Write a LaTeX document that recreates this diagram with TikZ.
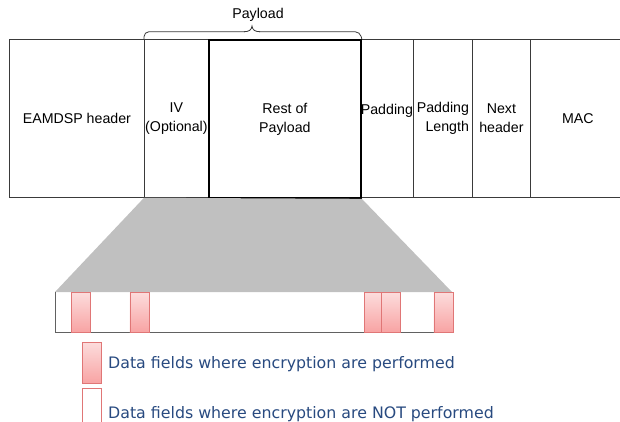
\documentclass[tikz,border=0pt]{standalone}
\usepackage{fontspec}
\setmainfont{Liberation Sans}
\newfontfamily\legendfont{DejaVu Sans}
\definecolor{fieldline}{HTML}{3A3A3A}
\definecolor{funnel}{HTML}{C0C0C0}
\definecolor{encfill}{HTML}{F8A3A3}
\definecolor{enctop}{HTML}{FCDCDC}
\definecolor{encline}{HTML}{E07676}
\definecolor{legendtext}{HTML}{284A80}
\begin{document}
\begin{tikzpicture}[x=1pt,y=-1pt,
  field/.style={draw=fieldline, line width=0.8pt, minimum height=158pt,
    inner sep=0pt, anchor=north west, align=center,
    font=\fontsize{14.2}{19}\selectfont},
  restbox/.style={field, draw=black, line width=1.8pt},
  encbox/.style={draw=encline, line width=0.8pt, top color=enctop,
    bottom color=encfill, minimum width=19pt, minimum height=40pt,
    inner sep=0pt, anchor=north west},
  plainbox/.style={draw=encline, line width=0.8pt, fill=white,
    minimum width=19pt, minimum height=41pt, inner sep=0pt, anchor=north west},
  legendlabel/.style={anchor=base west, text=legendtext, inner sep=0pt,
    font=\legendfont\fontsize{15.8}{18}\selectfont}
]
\useasboundingbox (0,0) rectangle (620,421);

% packet fields
\node[field, minimum width=135pt] (hdr) at (9,39) {EAMDSP header};
\node[field, minimum width=64pt] (iv) at (144,39) {IV\\(Optional)};
\node[field, minimum width=53pt] (pad) at (360,39) {Padding\\~};
\node[field, minimum width=59pt, align=right] (padlen) at (413,39) {Padding\\Length};
\node[field, minimum width=58pt] (next) at (472,39) {Next\\header};
\node[field, minimum width=95pt] (mac) at (530,39) {MAC};
\node[restbox, minimum width=152pt] (rest) at (208,39) {Rest of\\Payload};

% payload brace
\draw[fieldline, line width=0.8pt, rounded corners=5pt]
  (iv.north west) -- (144,31.7) -- (245,31.7);
\draw[fieldline, line width=0.8pt]
  (244,31.7) .. controls (249,31.7) and (251.5,30) .. (252,26)
  .. controls (252.5,30) and (255,31.7) .. (260,31.7);
\draw[fieldline, line width=0.8pt, rounded corners=5pt]
  (259,31.7) -- (360,31.7) -- (rest.north east);
\node[font=\fontsize{14.2}{17}\selectfont, inner sep=0pt] (payload) at (258,15) {Payload};

% expanded payload bar
\coordinate (barnw) at (55,292);
\coordinate (barne) at (452,292);
\coordinate (barsw) at (55,332);
\coordinate (barse) at (452,332);
\fill[funnel] (iv.south west) -- (rest.south east) -- (barne) -- (barnw) -- cycle;
\draw[fieldline!80, line width=0.9pt] (barnw) -- (barsw) -- (barse);

% encrypted parts of the payload
\node[encbox] (e1) at (71,292) {};
\node[encbox] (e2) at (129.5,292) {};
\node[encbox] (e3) at (364,292) {};
\node[encbox] (e4) at (381,292) {};
\node[encbox] (e5) at (433.5,292) {};

% legend
\node[encbox, minimum height=41pt] (lenc) at (82,342) {};
\node[legendlabel] (tenc) at (108,368) {Data fields where encryption are performed};
\node[plainbox, minimum height=45pt] (lplain) at (82,388) {};
\node[legendlabel] (tplain) at (108,418.5) {Data fields where encryption are NOT performed};
\end{tikzpicture}
\end{document}
